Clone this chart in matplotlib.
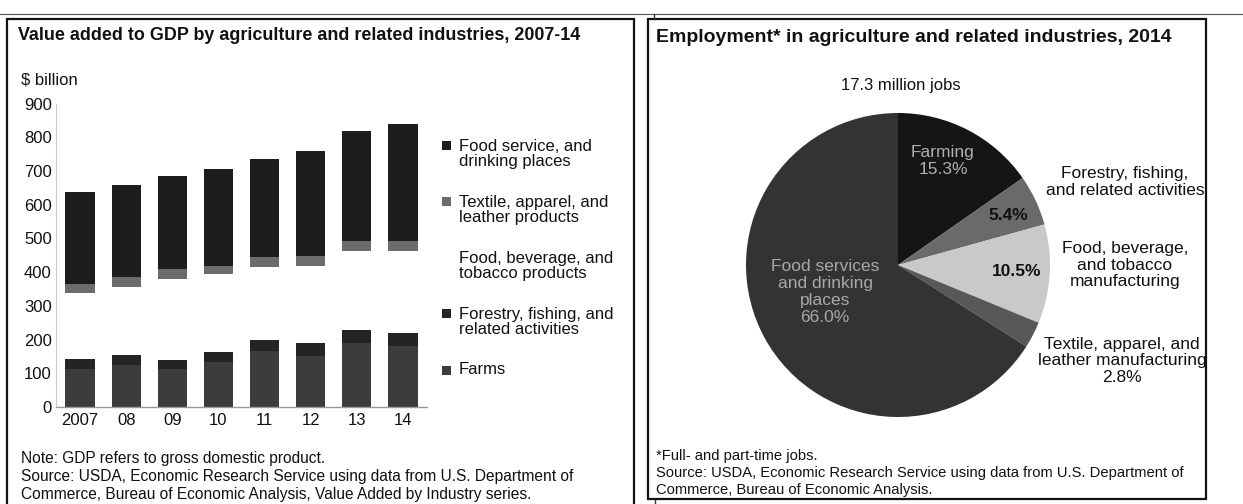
import matplotlib
matplotlib.use("Agg")
import matplotlib.pyplot as plt
from matplotlib.patches import Rectangle
from matplotlib.lines import Line2D

plt.rcParams['font.family'] = ['Liberation Sans', 'DejaVu Sans']

# ---- data: value added to GDP, $ billion ----
years = ['2007', '08', '09', '10', '11', '12', '13', '14']
farms = [112, 124, 112, 134, 167, 152, 190, 182]
forestry = [30, 30, 27, 28, 32, 37, 38, 37]
food_bev = [195, 202, 242, 231, 217, 230, 236, 245]
textile = [29, 30, 28, 26, 28, 28, 28, 28]
food_service = [273, 272, 276, 286, 292, 312, 327, 347]

bar_series = [
    ("Farms", farms, '#3c3c3c'),
    ("Forestry, fishing, and\nrelated activities", forestry, '#242424'),
    ("Food, beverage, and\ntobacco products", food_bev, 'white'),
    ("Textile, apparel, and\nleather products", textile, '#6c6c6c'),
    ("Food service, and\ndrinking places", food_service, '#1c1c1c'),
]

# ---- data: employment shares 2014, percent ----
pie_labels = ['Farming', 'Forestry, fishing,\nand related activities',
              'Food, beverage,\nand tobacco\nmanufacturing',
              'Textile, apparel, and\nleather manufacturing',
              'Food services\nand drinking\nplaces']
pie_shares = [15.3, 5.4, 10.5, 2.8, 66.0]
pie_colors = ['#151515', '#6a6a6a', '#c9c9c9', '#585858', '#333333']

W, H = 1243, 504
fig = plt.figure(figsize=(W / 100, H / 100), dpi=100)


def fx(px):
    return px / W


def fy(py):
    return 1 - py / H


# frames
fig.add_artist(Line2D([0, 1], [fy(14), fy(14)], color='#555555', lw=0.8))
fig.add_artist(Line2D([fx(654), fx(654)], [fy(14), fy(19)], color='#333333', lw=1))
fig.add_artist(Line2D([fx(655), fx(655)], [fy(500), 0], color='#333333', lw=1))
fig.add_artist(Rectangle((fx(7), fy(530)), fx(634 - 7), (530 - 19) / H,
                         fill=False, ec='#111111', lw=1.6))
fig.add_artist(Rectangle((fx(648), fy(499)), fx(1206 - 648), (499 - 19) / H,
                         fill=False, ec='#111111', lw=1.6))

# ---------------- left: stacked bars ----------------
ax = fig.add_axes([fx(56), fy(407), fx(427 - 56), (407 - 103.5) / H])
x = range(len(years))
bottom = [0] * len(years)
for name, vals, col in bar_series:
    ax.bar(x, vals, 0.63, bottom=bottom, color=col, lw=0)
    bottom = [b + v for b, v in zip(bottom, vals)]

ax.set_xlim(-0.52, 7.52)
ax.set_ylim(0, 900)
ax.set_yticks(range(0, 901, 100))
ax.set_xticks(list(x))
ax.set_xticklabels(years)
ax.tick_params(length=0, labelsize=12, colors='#111111', pad=4)
ax.tick_params(axis='y', pad=3)
for s in ['top', 'right']:
    ax.spines[s].set_visible(False)
ax.spines['left'].set_color('#cccccc')
ax.spines['left'].set_linewidth(0.8)
ax.spines['bottom'].set_color('#999999')
ax.spines['bottom'].set_linewidth(1)

fig.text(fx(18), fy(35), "Value added to GDP by agriculture and related industries, 2007-14",
         fontsize=12.9, fontweight='bold', va='center', color='#111111')
fig.text(fx(21), fy(80), "$ billion", fontsize=12, va='center', color='#111111')

# legend, top item first
leg_y = [154, 210, 266, 322, 370]
for (name, vals, col), ly in zip(bar_series[::-1], leg_y):
    nlines = name.count('\n') + 1
    first = ly - (nlines - 1) * 8.5
    fig.add_artist(Rectangle((fx(442), fy(first + 4.5)), fx(9), 9 / H,
                             fc=col, ec='none'))
    fig.text(fx(459), fy(ly), name, fontsize=12, va='center', linespacing=1.02,
             color='#111111')

for ly, line in zip([458, 476, 494], [
        "Note: GDP refers to gross domestic product.",
        "Source: USDA, Economic Research Service using data from U.S. Department of",
        "Commerce, Bureau of Economic Analysis, Value Added by Industry series."]):
    fig.text(fx(21), fy(ly), line, fontsize=11.2, va='center', color='#111111')

# ---------------- right: pie ----------------
cx, cy, r = 898, 265, 152
pax = fig.add_axes([fx(cx - r), fy(cy + r), fx(2 * r), 2 * r / H])
pax.pie(pie_shares, colors=pie_colors, startangle=90, counterclock=False,
        wedgeprops=dict(lw=0))
pax.set_xlim(-1, 1)
pax.set_ylim(-1, 1)


def pt(px, py):
    return (px - cx) / r, (cy - py) / r


inner = [(f"Farming\n{pie_shares[0]:.1f}%", 943, 161, '#b0b0b0', 'normal'),
         (f"{pie_shares[1]:.1f}%", 1008, 215, '#111111', 'bold'),
         (f"{pie_shares[2]:.1f}%", 1017, 272, '#111111', 'bold'),
         (f"Food services\nand drinking\nplaces\n{pie_shares[4]:.1f}%", 825, 292, '#a8a8a8', 'normal')]
for txt, px, py, col, fw in inner:
    pax.text(*pt(px, py), txt, ha='center', va='center', fontsize=12.5,
             color=col, fontweight=fw, linespacing=1.15)

outer = [(pie_labels[1], 1125, 182),
         (pie_labels[2], 1125, 265),
         (pie_labels[3] + f"\n{pie_shares[3]:.1f}%", 1122, 361)]
for txt, px, py in outer:
    pax.text(*pt(px, py), txt, ha='center', va='center', fontsize=12.5,
             color='#111111', linespacing=1.15)

fig.text(fx(656), fy(37), "Employment* in agriculture and related industries, 2014",
         fontsize=14, fontweight='bold', va='center', color='#111111')
fig.text(fx(901), fy(85), "17.3 million jobs", fontsize=12, ha='center',
         va='center', color='#111111')

for ly, line in zip([456, 473, 490], [
        "*Full- and part-time jobs.",
        "Source: USDA, Economic Research Service using data from U.S. Department of",
        "Commerce, Bureau of Economic Analysis."]):
    fig.text(fx(656), fy(ly), line, fontsize=10.6, va='center', color='#111111')

fig.savefig("out.png", dpi=100)
